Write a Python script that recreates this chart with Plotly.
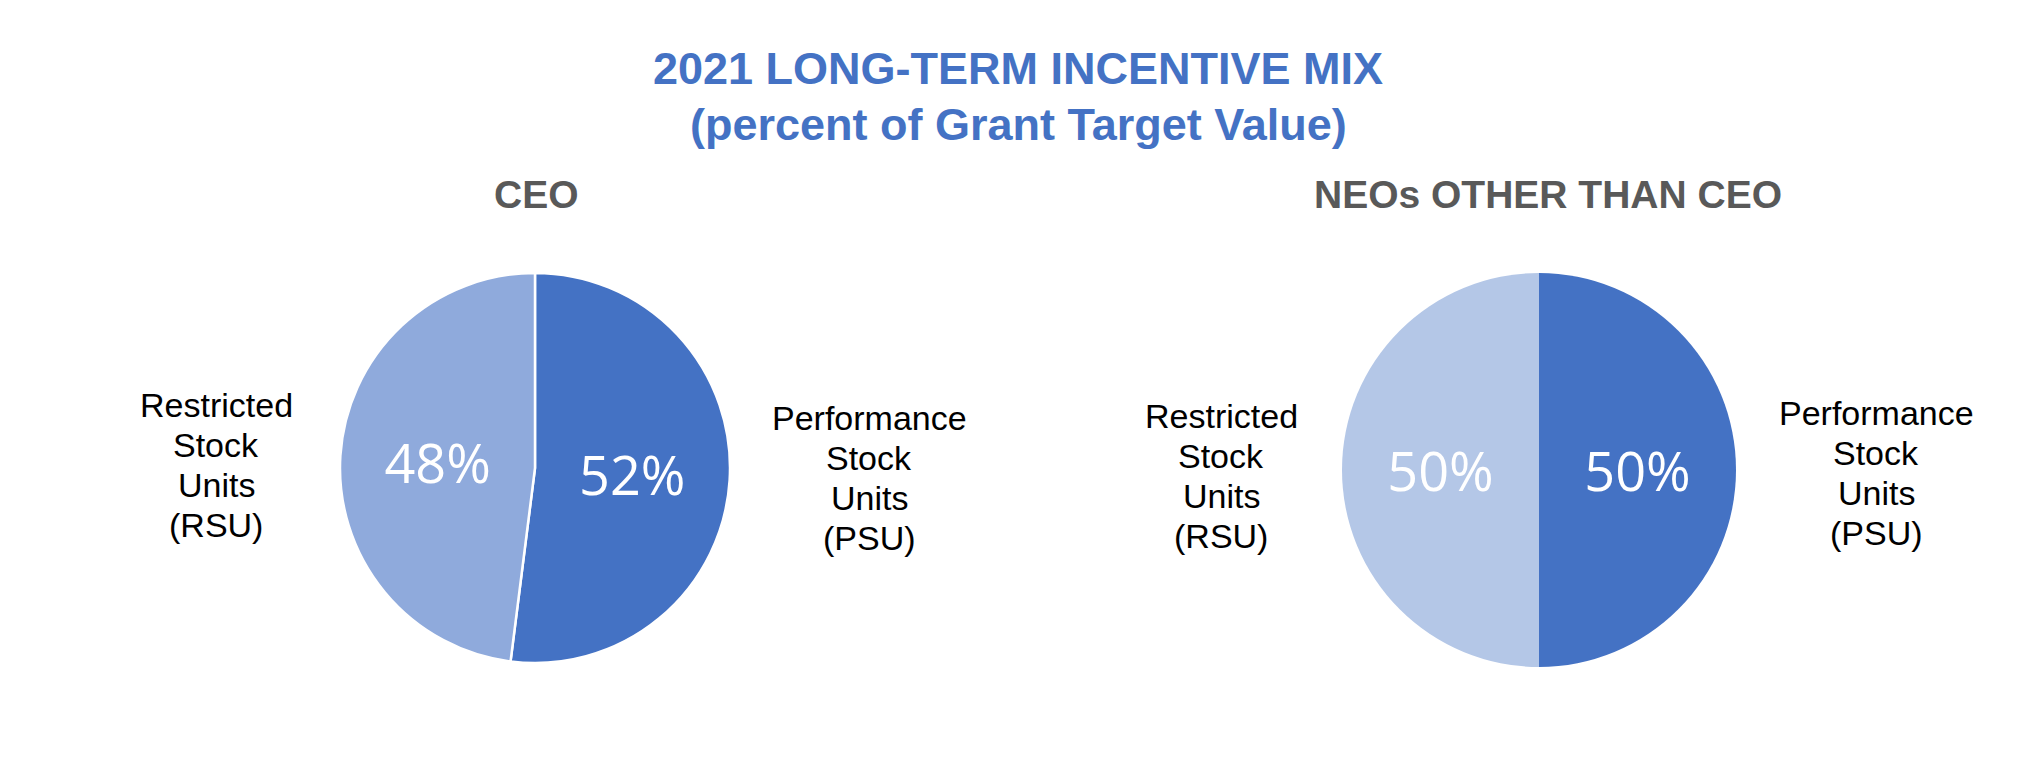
import plotly.graph_objects as go

W, H = 2033, 760

# ---- data ----
title_lines = ["2021 LONG-TERM INCENTIVE MIX", "(percent of Grant Target Value)"]
panel_titles = ["CEO", "NEOs OTHER THAN CEO"]
slice_labels = ["Performance Stock Units (PSU)", "Restricted Stock Units (RSU)"]
ceo_values = [52, 48]
neo_values = [50, 50]
psu_label_lines = ["Performance", "Stock", "Units", "(PSU)"]
rsu_label_lines = ["Restricted", "Stock", "Units", "(RSU)"]

# ---- styles ----
PSU_COLOR = "#4472C4"
CEO_RSU_COLOR = "#8FAADC"
NEO_RSU_COLOR = "#B4C7E7"
TITLE_COLOR = "#4472C4"
SUB_COLOR = "#595959"


def px_x(x):
    return x / W


def px_y(y):
    return 1 - y / H


fig = go.Figure()

fig.add_trace(go.Pie(
    labels=slice_labels, values=ceo_values, sort=False, direction="clockwise",
    rotation=0,
    marker=dict(colors=[PSU_COLOR, CEO_RSU_COLOR], line=dict(color="white", width=2.5)),
    texttemplate="%{value}%", textposition="inside", insidetextorientation="horizontal",
    textfont=dict(family="Open Sans", size=54, color="white"),
    domain=dict(x=[px_x(332), px_x(722)], y=[px_y(655), px_y(265)]),
    showlegend=False, hoverinfo="label+value",
))

fig.add_trace(go.Pie(
    labels=slice_labels, values=neo_values, sort=False, direction="clockwise",
    rotation=0,
    marker=dict(colors=[PSU_COLOR, NEO_RSU_COLOR], line=dict(width=0)),
    texttemplate="%{value}%", textposition="inside", insidetextorientation="horizontal",
    textfont=dict(family="Open Sans", size=54, color="white"),
    domain=dict(x=[px_x(1334), px_x(1728)], y=[px_y(659), px_y(265)]),
    showlegend=False, hoverinfo="label+value",
))

ann = []
# main title
ann.append(dict(text="<b>%s</b>" % title_lines[0], x=px_x(1010), y=px_y(61),
                font=dict(family="Liberation Sans", size=45, color=TITLE_COLOR)))
ann.append(dict(text="<b>%s</b>" % title_lines[1], x=px_x(1010), y=px_y(116),
                font=dict(family="Liberation Sans", size=45, color=TITLE_COLOR)))
# panel titles
ann.append(dict(text="<b>%s</b>" % panel_titles[0], x=px_x(528), y=px_y(186),
                font=dict(family="Liberation Sans", size=39, color=SUB_COLOR)))
ann.append(dict(text="<b>%s</b>" % panel_titles[1], x=px_x(1540), y=px_y(186),
                font=dict(family="Liberation Sans", size=39, color=SUB_COLOR)))
# slice labels (one annotation per text line)
lab_font = dict(family="Liberation Sans", size=34, color="black")
label_blocks = [
    (rsu_label_lines, 208, 397),
    (psu_label_lines, 861, 410),
    (rsu_label_lines, 1213, 408),
    (psu_label_lines, 1868, 405),
]
for lines, cx, y0 in label_blocks:
    for i, line in enumerate(lines):
        ann.append(dict(text=line, x=px_x(cx), y=px_y(y0 + 40 * i), font=lab_font))

for a in ann:
    a.update(xref="paper", yref="paper", xanchor="center", yanchor="middle",
             showarrow=False, align="center")

fig.update_layout(
    width=W, height=H,
    margin=dict(l=0, r=0, t=0, b=0),
    paper_bgcolor="white", plot_bgcolor="white",
    annotations=ann,
)

fig.write_html("out.html")
